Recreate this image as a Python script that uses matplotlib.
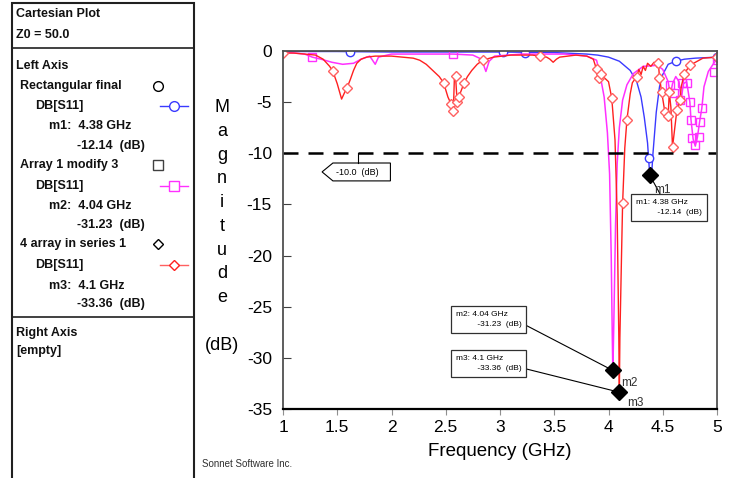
import matplotlib.pyplot as plt
from matplotlib.patches import Polygon, Rectangle
from matplotlib.lines import Line2D

plt.rcParams['font.family'] = ['Liberation Sans', 'DejaVu Sans']

# ---- data ----
blue_f = [1.0, 1.5, 2.0, 2.5, 3.0, 3.5, 3.8, 3.9, 4.0, 4.1, 4.2, 4.26, 4.3, 4.33, 4.36,
          4.38, 4.395, 4.41, 4.44, 4.47, 4.50, 4.55, 4.62, 4.7, 4.8, 5.0]
blue_db = [-0.05, -0.05, -0.1, -0.1, -0.1, -0.15, -0.3, -0.4, -0.6, -1.0, -1.9, -3.0, -4.5,
           -6.5, -9.0, -12.14, -12.5, -10.0, -6.0, -3.5, -2.3, -1.3, -1.0, -0.8, -0.7, -0.6]
blue_mk_f = [1.62, 3.03, 3.23, 4.37, 4.62, 5.0]
blue_mk_db = [-0.1, -0.1, -0.2, -10.5, -1.0, -0.6]

mag_f = [1.0, 1.2, 1.27, 1.35, 1.45, 1.55, 1.65, 1.72, 1.8, 1.85, 1.88, 2.0, 2.3, 2.57, 2.75,
         2.83, 2.87, 2.90, 2.95, 3.2, 3.6, 3.8, 3.89, 3.92, 3.96, 3.99, 4.01, 4.025, 4.035,
         4.04, 4.05, 4.065, 4.08, 4.10, 4.13, 4.17, 4.23, 4.32, 4.45, 4.50, 4.55, 4.57,
         4.59, 4.62, 4.65, 4.67, 4.69, 4.72, 4.75, 4.76, 4.78, 4.80, 4.82, 4.84, 4.86,
         4.88, 4.92, 4.97, 5.0]
mag_db = [-0.1, -0.3, -0.6, -0.8, -1.1, -1.3, -1.2, -0.8, -0.5, -1.3, -0.6, -0.3, -0.3, -0.3,
          -0.4, -0.8, -2.0, -1.0, -0.5, -0.3, -0.3, -0.5, -0.9, -2.2, -4.5, -8.0, -12.0,
          -20.0, -28.0, -31.5, -26.0, -17.0, -11.0, -7.5, -4.8, -3.3, -2.2, -1.5, -1.4,
          -1.8, -3.0, -4.3, -3.2, -2.5, -3.0, -4.8, -3.2, -3.0, -5.0, -6.7, -8.6, -9.3,
          -8.4, -6.9, -5.6, -3.5, -2.0, -1.2, -0.8]
mag_mk_f = [1.27, 2.57, 4.57, 4.60, 4.66, 4.68, 4.72, 4.75, 4.76, 4.77, 4.80, 4.83, 4.84,
            4.86, 4.97, 5.0]
mag_mk_db = [-0.6, -0.3, -3.3, -4.1, -4.8, -3.1, -3.1, -5.0, -6.7, -8.5, -9.2, -8.4, -6.9,
             -5.6, -2.1, -0.9]

red_f = [1.0, 1.1, 1.2, 1.3, 1.37, 1.43, 1.46, 1.5, 1.54, 1.57, 1.59, 1.62, 1.65, 1.68,
         1.72, 1.77, 1.85, 2.0, 2.1, 2.2, 2.26, 2.32, 2.38, 2.44, 2.48, 2.52, 2.55, 2.57,
         2.58, 2.59, 2.605, 2.62, 2.67, 2.70, 2.74, 2.79, 2.84, 2.94, 3.1, 3.3, 3.37,
         3.43, 3.46, 3.49, 3.52, 3.55, 3.7, 3.8, 3.86, 3.89, 3.91, 3.93, 3.95, 3.98,
         4.0, 4.03, 4.06, 4.08, 4.095, 4.1, 4.105, 4.12, 4.13, 4.15, 4.17, 4.2, 4.22,
         4.26, 4.28, 4.3, 4.32, 4.34, 4.36, 4.39, 4.42, 4.45, 4.46, 4.47, 4.49, 4.52,
         4.55, 4.56, 4.575, 4.59, 4.61, 4.63, 4.66, 4.67, 4.70, 4.75, 4.87, 5.0]
red_db = [-0.2, -0.2, -0.3, -0.4, -0.8, -1.5, -2.0, -3.2, -4.7, -4.0, -3.6, -2.8, -1.9,
          -1.2, -0.8, -0.6, -0.5, -0.5, -0.6, -0.7, -0.9, -1.3, -1.9, -2.5, -3.1, -4.5,
          -5.2, -5.9, -2.5, -2.4, -5.0, -4.5, -3.1, -2.5, -1.9, -1.3, -0.9, -0.6, -0.4,
          -0.4, -0.5, -0.6, -0.8, -1.1, -0.8, -0.6, -0.4, -0.5, -0.8, -1.8, -2.6, -2.2,
          -2.5, -2.8, -3.0, -4.6, -8.7, -16.0, -28.0, -33.36, -28.0, -20.0, -14.9, -9.5,
          -6.7, -4.2, -3.1, -2.5, -1.8, -2.3, -1.5, -1.9, -1.2, -1.5, -1.1, -1.6, -1.2,
          -2.6, -4.0, -6.0, -6.4, -4.0, -5.5, -9.4, -7.6, -5.8, -4.8, -3.5, -2.2, -1.4,
          -0.7, -0.6]
red_mk_f = [1.0, 1.46, 1.59, 2.48, 2.55, 2.57, 2.59, 2.605, 2.62, 2.67, 2.84, 3.37, 3.89,
            3.91, 3.93, 4.03, 4.13, 4.17, 4.26, 4.46, 4.47, 4.49, 4.52, 4.55, 4.56, 4.59,
            4.63, 4.66, 4.70, 4.75, 5.0]
red_mk_db = [-0.2, -2.0, -3.6, -3.1, -5.2, -5.9, -2.4, -5.0, -4.5, -3.1, -0.9, -0.5, -1.8,
             -2.6, -2.2, -4.6, -14.9, -6.7, -2.5, -1.2, -2.6, -4.0, -6.0, -6.4, -4.0, -9.4,
             -5.8, -4.8, -2.2, -1.4, -0.6]

mk_names = ['m1', 'm2', 'm3']
mk_freq = [4.38, 4.04, 4.1]
mk_db = [-12.14, -31.23, -33.36]
ref_level = -10.0

xticks = [1, 1.5, 2, 2.5, 3, 3.5, 4, 4.5, 5]
xtick_labels = ['1', '1.5', '2', '2.5', '3', '3.5', '4', '4.5', '5']
yticks = [0, -5, -10, -15, -20, -25, -30, -35]
ytick_labels = ['0', '-5', '-10', '-15', '-20', '-25', '-30', '-35']

BLUE = '#3a3aff'
MAG = '#ff30ff'
RED = '#ff2020'
SALMON = '#ff6060'

fig = plt.figure(figsize=(7.34, 4.78), dpi=100)
ax = fig.add_axes([283 / 734, 1 - 409 / 478, 434 / 734, 358 / 478])

ax.plot(blue_f, blue_db, color=BLUE, lw=1)
ax.plot(blue_mk_f, blue_mk_db, ls='none', marker='o', ms=6, mfc='white', mec=BLUE, mew=1)
ax.plot(mag_f, mag_db, color=MAG, lw=1.1)
ax.plot(mag_mk_f, mag_mk_db, ls='none', marker='s', ms=6, mfc='none', mec=MAG, mew=1)
ax.plot(red_f, red_db, color=RED, lw=1)
ax.plot(red_mk_f, red_mk_db, ls='none', marker='D', ms=5, mfc='white', mec=SALMON, mew=1)

ax.axhline(ref_level, color='black', lw=1.8, dashes=(6, 4))

ax.set_xlim(1, 5)
ax.set_ylim(-35, 0)
ax.set_xticks(xticks)
ax.set_xticklabels(xtick_labels)
ax.set_yticks(yticks)
ax.set_yticklabels(ytick_labels)
ax.tick_params(axis='both', labelsize=12.5)
ax.tick_params(axis='x', direction='out', length=4, color='#909090', pad=4)
ax.tick_params(axis='y', direction='in', length=6, color='#404040', pad=8)
for s in ax.spines.values():
    s.set_color('#505050')
    s.set_linewidth(1.3)
ax.spines['bottom'].set_color('black')
ax.spines['bottom'].set_linewidth(1.6)
ax.set_xlabel('Frequency (GHz)', fontsize=13.5, labelpad=6)

fig.text(222 / 734, 1 - 99 / 478, 'M\na\ng\nn\ni\nt\nu\nd\ne\n\n(dB)', ha='center', va='top',
         fontsize=13, linespacing=1.52)

# -10 dB callout
ax.plot([1.69, 1.69], [ref_level, -10.95], color='black', lw=0.8)
ax.add_patch(Polygon([(1.36, -11.82), (1.46, -10.95), (1.99, -10.95), (1.99, -12.7),
                      (1.46, -12.7)], closed=True, fc='white', ec='black', lw=0.8))
ax.text(1.49, -11.85, '%.1f  (dB)' % ref_level, fontsize=6.5, va='center')

# markers m1..m3
box_pos = [(4.255, -14.5), (2.59, -25.4), (2.59, -29.7)]
line_end = [(4.50, -14.45), (3.2, -26.6), (3.21, -31.0)]
name_pos = [(4.42, -13.6), (4.12, -32.5), (4.17, -34.4)]
for i in range(3):
    ax.plot(mk_freq[i], mk_db[i], marker='D', ms=8, color='black', zorder=6)
    ax.plot([mk_freq[i], line_end[i][0]], [mk_db[i], line_end[i][1]], color='black', lw=0.8,
            zorder=5)
    ax.text(box_pos[i][0], box_pos[i][1],
            '%s: %g GHz\n         %.2f  (dB)' % (mk_names[i], mk_freq[i], mk_db[i]),
            fontsize=6, va='top', ha='left', zorder=7, linespacing=1.6,
            bbox=dict(boxstyle='square,pad=0.6', fc='white', ec='#303030', lw=0.9))
    ax.text(name_pos[i][0], name_pos[i][1], mk_names[i], fontsize=8.5, color='#303030',
            va='center', clip_on=False, zorder=7)

fig.text(202 / 734, 1 - 464 / 478, 'Sonnet Software Inc.', fontsize=7, color='#303030',
         va='center')

# ---- left info panel ----
fig.add_artist(Rectangle((12 / 734, -0.01), (194 - 12) / 734, 1 - 3 / 478 + 0.01,
                         transform=fig.transFigure, fc='none', ec='#202020', lw=1.5))
for yy in [48, 317]:
    fig.add_artist(Line2D([12 / 734, 194 / 734], [1 - yy / 478] * 2, color='#202020', lw=1.2))

panel = [
    (16, 14, 'Cartesian Plot'),
    (16, 35, 'Z0 = 50.0'),
    (16, 66, 'Left Axis'),
    (20, 86, 'Rectangular final'),
    (35, 106, 'DB[S11]'),
    (49, 126, 'm1:  4.38 GHz'),
    (77, 146, '-12.14  (dB)'),
    (20, 165, 'Array 1 modify 3'),
    (35, 186, 'DB[S11]'),
    (49, 206, 'm2:  4.04 GHz'),
    (77, 225, '-31.23  (dB)'),
    (20, 244, '4 array in series 1'),
    (35, 265, 'DB[S11]'),
    (49, 286, 'm3:  4.1 GHz'),
    (77, 304, '-33.36  (dB)'),
    (16, 333, 'Right Axis'),
    (16, 351, '[empty]'),
]
for px, py, s in panel:
    fig.text(px / 734, 1 - py / 478, s, fontsize=9, fontweight='bold', va='center', ha='left',
             color='#111111')

sym = [(86, 'o', 'black', None), (165, 's', '#404040', None), (244, 'D', 'black', None),
       (106, 'o', BLUE, BLUE), (186, 's', MAG, MAG), (265, 'D', RED, SALMON)]
for py, m, mc, lc in sym:
    y = 1 - py / 478
    if lc is None:
        fig.add_artist(Line2D([158 / 734], [y], marker=m, ms=7 if m != 'D' else 5.5,
                              mfc='white', mec=mc, mew=1, ls='none'))
    else:
        fig.add_artist(Line2D([160 / 734, 188 / 734], [y, y], color=lc, lw=1))
        fig.add_artist(Line2D([174 / 734], [y], marker=m, ms=7 if m != 'D' else 5.5,
                              mfc='white', mec=mc, mew=1, ls='none'))

fig.savefig('out.png', dpi=100)
